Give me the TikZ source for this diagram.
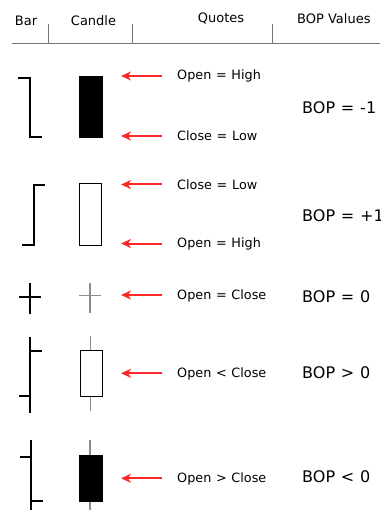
\documentclass[tikz,border=0pt]{standalone}
\usepackage{fontspec}
\setmainfont{DejaVu Sans}
\newfontfamily\bopfont[WordSpace=1.3]{DejaVu Sans}
\newfontfamily\quotefont[WordSpace=1.15]{DejaVu Sans}
\usetikzlibrary{arrows.meta}
\definecolor{arrred}{RGB}{255,40,40}
\definecolor{wickgray}{RGB}{140,140,140}
\tikzset{
  hdr/.style={inner sep=0pt, font=\fontsize{13}{15}\selectfont},
  quote/.style={anchor=west, inner sep=0pt, font=\quotefont\fontsize{12.8}{15}\selectfont},
  bop/.style={anchor=west, inner sep=0pt, font=\bopfont\fontsize{16}{19}\selectfont},
  barline/.style={line width=2pt, black},
  wick/.style={line width=1.5pt, wickgray},
  bodyfill/.style={fill=black, draw=black, line width=0.8pt},
  bodyhollow/.style={fill=white, draw=black, line width=1pt},
  rarrow/.style={arrred, line width=2pt, -{Stealth[length=10pt, width=9pt, inset=3pt]}},
  rule/.style={gray!90!black, line width=0.8pt}
}
\begin{document}
\begin{tikzpicture}[x=1pt, y=-1pt]
\useasboundingbox (0,0) rectangle (380,510);
\clip (0,0) rectangle (380,510);
% header
\node[hdr] (hbar) at (26,21) {Bar};
\node[hdr] (hcandle) at (93.5,21) {Candle};
\node[hdr] (hquotes) at (221,19) {Quotes};
\node[hdr, anchor=west] (hbop) at (297,19) {BOP Values};
\draw[rule] (12,43) -- (380,43);
\draw[rule] (48.5,24) -- (48.5,43);
\draw[rule] (132.5,24) -- (132.5,43);
\draw[rule] (272.5,24) -- (272.5,43);

% ---------- row 1 : BOP = -1
\draw[barline] (18,78) -- (30,78) -- (30,137) -- (42,137);
\node[bodyfill, minimum width=23pt, minimum height=61pt, inner sep=0pt] (c1) at (90.5,106.5) {};
\node[quote] (q1a) at (177,76) {Open = High};
\node[quote] (q1b) at (177,136) {Close = Low};
\coordinate (a1a) at (162,76); \coordinate (t1a) at (121,76);
\coordinate (a1b) at (162,136); \coordinate (t1b) at (121,136);
\draw[rarrow] (a1a) -- (t1a);
\draw[rarrow] (a1b) -- (t1b);
\node[bop] (b1) at (302,108) {BOP = -1};

% ---------- row 2 : BOP = +1
\draw[barline] (45,185.5) -- (34,185.5) -- (34,245) -- (22,245);
\node[bodyhollow, minimum width=22pt, minimum height=61pt, inner sep=0pt] (c2) at (90,214.5) {};
\node[quote] (q2a) at (177,184.5) {Close = Low};
\node[quote] (q2b) at (177,243.5) {Open = High};
\coordinate (a2a) at (162,184.5); \coordinate (t2a) at (121,184.5);
\coordinate (a2b) at (162,243.5); \coordinate (t2b) at (121,243.5);
\draw[rarrow] (a2a) -- (t2a);
\draw[rarrow] (a2b) -- (t2b);
\node[bop] (b2) at (302,215.5) {BOP = +1};

% ---------- row 3 : BOP = 0
\draw[barline] (30,283) -- (30,314);
\draw[barline] (19,297) -- (41,297);
\draw[wick] (90,282.5) -- (90,312.5);
\draw[wick] (79,295.5) -- (101,295.5);
\node[quote] (q3) at (177,296) {Open = Close};
\coordinate (a3) at (162,295); \coordinate (t3) at (121,295);
\draw[rarrow] (a3) -- (t3);
\node[bop] (b3) at (302,296.5) {BOP = 0};

% ---------- row 4 : BOP > 0
\draw[barline] (30,336.5) -- (30,413);
\draw[barline] (30,350.5) -- (42,350.5);
\draw[barline] (19,396) -- (30,396);
\draw[wick] (90.5,335.5) -- (90.5,411);
\node[bodyhollow, minimum width=22pt, minimum height=46pt, inner sep=0pt] (c4) at (91,373.5) {};
\node[quote] (q4) at (177,373.5) {Open < Close};
\coordinate (a4) at (162,373.3); \coordinate (t4) at (121,373.3);
\draw[rarrow] (a4) -- (t4);
\node[bop] (b4) at (302,372.5) {BOP > 0};

% ---------- row 5 : BOP < 0
\draw[barline] (31,440) -- (31,512);
\draw[barline] (20,457) -- (31,457);
\draw[barline] (31,501) -- (43,501);
\draw[wick] (90,440) -- (90,512);
\node[bodyfill, minimum width=23pt, minimum height=46pt, inner sep=0pt] (c5) at (90.5,478.5) {};
\node[quote] (q5) at (177,478.5) {Open > Close};
\coordinate (a5) at (162,478.3); \coordinate (t5) at (121,478.3);
\draw[rarrow] (a5) -- (t5);
\node[bop] (b5) at (302,476.5) {BOP < 0};
\end{tikzpicture}
\end{document}
